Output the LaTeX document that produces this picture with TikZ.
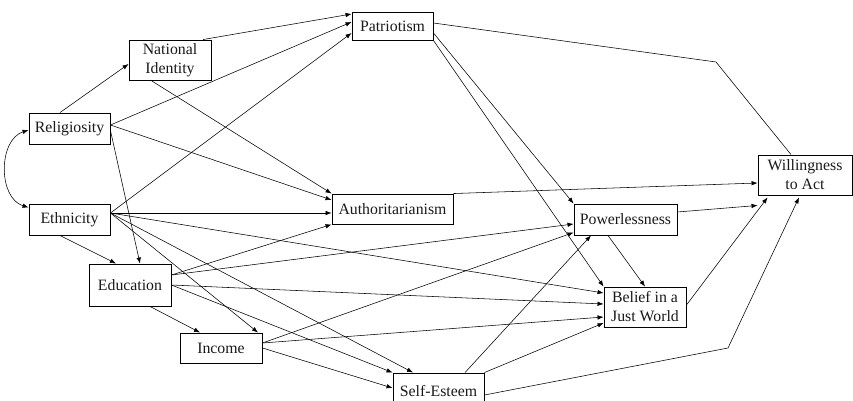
\documentclass[tikz,border=0pt]{standalone}
\usepackage{fontspec}
\setmainfont{Liberation Serif}
\usetikzlibrary{arrows.meta}
\begin{document}
\begin{tikzpicture}[x=1pt,y=-1pt,
  box/.style={draw, line width=0.9pt, inner sep=0pt, align=center, text=black!90, font=\fontsize{15.8}{19}\selectfont},
  arr/.style={line width=0.55pt, -{Latex[length=6pt,width=4.5pt]}},
  dbl/.style={line width=0.55pt, {Latex[length=6pt,width=4.5pt]}-{Latex[length=6pt,width=4.5pt]}},
  ln/.style={line width=0.55pt}]
\useasboundingbox (0,0) rectangle (853,401);
% nodes
\node[box, minimum width=82pt, minimum height=40pt] (ni) at (170,60) {National\\Identity};
\node[box, minimum width=81pt, minimum height=31pt] (rel) at (69.5,128.5) {Religiosity};
\node[box, minimum width=81pt, minimum height=31pt] (eth) at (69.5,219.5) {Ethnicity};
\node[box, minimum width=82pt, minimum height=42pt] (edu) at (130,285) {Education};
\node[box, minimum width=82pt, minimum height=30pt] (inc) at (221,348) {Income};
\node[box, minimum width=81pt, minimum height=28pt] (pat) at (392.5,26) {Patriotism};
\node[box, minimum width=121pt, minimum height=30pt] (auth) at (392.5,209) {Authoritarianism};
\node[box, minimum width=103pt, minimum height=31pt] (pow) at (625.5,219.5) {Powerlessness};
\node[box, minimum width=82pt, minimum height=40pt] (bel) at (645,307) {Belief in a\\Just World};
\node[box, minimum width=91pt, minimum height=36pt] (se) at (438.5,391) {Self-Esteem};
\node[box, minimum width=94pt, minimum height=40pt] (will) at (805,175) {Willingness\\to Act};
\coordinate (k1) at (716,62);
\coordinate (k2) at (728,348);
% edges
\draw[arr] ([xshift=-9.5pt]rel.north) -- ([yshift=-4pt]ni.west);
\draw[arr] ([xshift=33pt]ni.north) -- ([yshift=12pt]pat.west);
\draw[arr] ([xshift=-19pt]ni.south) -- (auth.north west);
\draw[arr] ([yshift=3.5pt]rel.east) -- ([yshift=4pt]pat.west);
\draw[arr] ([yshift=3.5pt]rel.east) -- ([yshift=9pt]auth.west);
\draw[arr] ([yshift=-2pt]rel.east) -- ([xshift=10pt]edu.north);
\draw[dbl] ([yshift=-1.5pt]rel.west) .. controls (-2,140) and (-2,198) .. ([yshift=12pt]eth.west);
\draw[arr] ([yshift=6.5pt]eth.east) -- ([yshift=-7pt]pat.west);
\draw[arr] ([yshift=6.5pt]eth.east) -- ([yshift=-4pt]auth.west);
\draw[arr] ([xshift=-9.5pt]eth.south) -- ([xshift=-14pt]edu.north);
\draw[arr] ([yshift=6.5pt]eth.east) -- ([xshift=37pt]inc.north);
\draw[arr] ([yshift=6.5pt]eth.east) -- ([xshift=-25.5pt]se.north);
\draw[arr] ([yshift=6.5pt]eth.east) -- ([yshift=14pt]bel.west);
\draw[arr] ([yshift=10pt]edu.east) -- (auth.south west);
\draw[arr] ([yshift=10pt]edu.east) -- ([yshift=-4.5pt]pow.west);
\draw[arr] (edu.east) -- ([yshift=3pt]bel.west);
\draw[arr] ([xshift=20pt]edu.south) -- ([xshift=-21pt]inc.north);
\draw[arr] (edu.east) -- (se.north west);
\draw[arr] ([yshift=5pt]inc.east) -- ([yshift=-13pt]pow.west);
\draw[arr] ([yshift=5pt]inc.east) -- ([yshift=-10pt]bel.west);
\draw[arr] (inc.east) -- ([yshift=3pt]se.west);
\draw[arr] ([xshift=26.5pt]se.north) -- ([xshift=-34.5pt]pow.south);
\draw[arr] (se.north east) -- ([yshift=-16pt]bel.west);
\draw[arr] ([yshift=-4pt]se.east) -- (k2) -- ([xshift=-6pt,yshift=-2pt]will.south);
\draw[ln] ([yshift=3pt]pat.east) -- (k1) -- ([xshift=-14pt]will.north);
\draw[arr] ([yshift=-7pt]pat.east) -- (pow.north west);
\draw[arr] (pat.south east) -- (bel.north west);
\draw[arr] (auth.north east) -- ([yshift=-8pt]will.west);
\draw[arr] ([yshift=7.5pt]pow.east) -- ([yshift=-10pt]will.south west);
\draw[arr] ([xshift=-17.5pt]pow.south) -- (bel.north);
\draw[arr] ([yshift=2pt]bel.east) -- ([xshift=10pt,yshift=-2pt]will.south west);
\end{tikzpicture}
\end{document}
